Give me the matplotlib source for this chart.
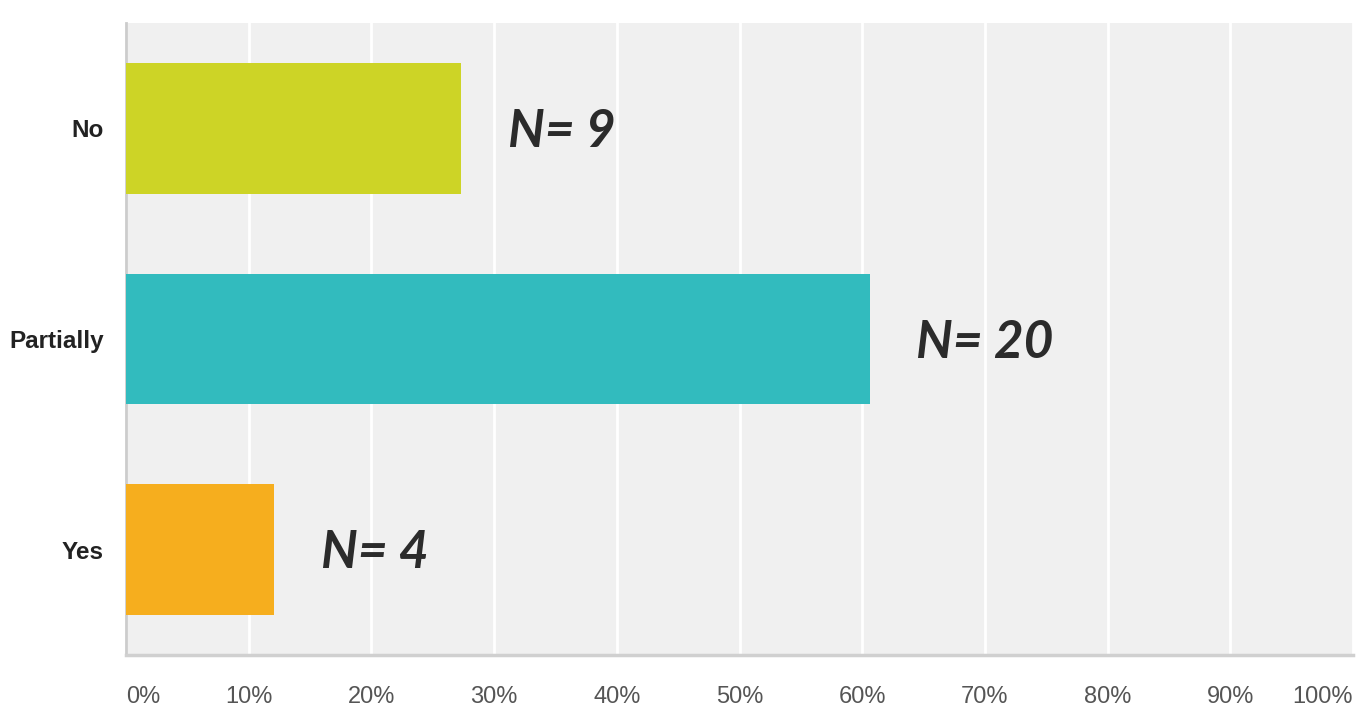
import numpy as np
import matplotlib.pyplot as plt
import matplotlib as mpl

mpl.rcParams['font.family'] = 'sans-serif'
mpl.rcParams['font.sans-serif'] = ['Liberation Sans', 'DejaVu Sans']

categories = ['No', 'Partially', 'Yes']
counts = [9, 20, 4]
percents = [27.3, 60.6, 12.1]
colors = ['#cdd426', '#32bbbe', '#f6ae1e']
xticks = [0, 10, 20, 30, 40, 50, 60, 70, 80, 90, 100]
xticklabels = ['%d%%' % t for t in xticks]

fig = plt.figure(figsize=(13.63, 7.12), dpi=100)
ax = fig.add_axes([126/1363., 57/712., 1227/1363., 632/712.])
ax.set_facecolor('#f0f0f0')

y = np.arange(len(categories))
ax.barh(y, percents, height=0.62, color=colors, zorder=3)

ax.set_xlim(0, 100)
ax.set_ylim(2.5, -0.5)

ax.set_xticks(xticks)
ax.set_xticklabels(xticklabels, fontsize=17, color='#555555')
ax.tick_params(axis='x', length=0, pad=22)
labs = ax.get_xticklabels()
labs[0].set_ha('left')
labs[-1].set_ha('right')

ax.set_yticks(y)
ax.set_yticklabels(categories, fontsize=17.5, fontweight='bold', color='#222222')
ax.tick_params(axis='y', length=0, pad=16)

ax.grid(axis='x', color='white', linewidth=2, zorder=1)
ax.set_axisbelow(True)

for s in ['top', 'right']:
    ax.spines[s].set_visible(False)
ax.spines['left'].set_color('#cccccc')
ax.spines['left'].set_linewidth(2)
ax.spines['bottom'].set_color('#d0d0d0')
ax.spines['bottom'].set_linewidth(2.5)

for yi, p, n in zip(y, percents, counts):
    ax.text(p + 3.8, yi + 0.02, 'N= %d' % n, family=['Lato', 'DejaVu Sans'],
            fontsize=37, fontweight='bold', fontstyle='italic',
            color='#2b2b2b', va='center', ha='left', zorder=4)

fig.savefig('out.png', dpi=100)
